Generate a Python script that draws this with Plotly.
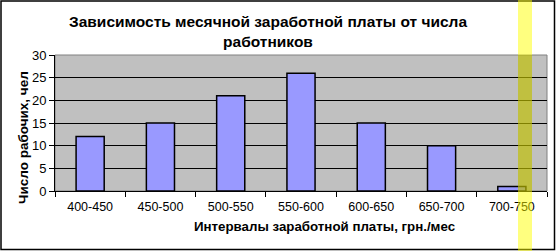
import plotly.graph_objects as go

categories = ["400-450", "450-500", "500-550", "550-600", "600-650", "650-700", "700-750"]
workers = [12, 15, 21, 26, 15, 10, 1]

L, R, T, B = 55, 12, 55, 60
W, H = 559, 251
pw, ph = W - L - R, H - T - B

def px(x):
    return (x - L) / pw

def py(y):
    return (H - B - y) / ph

fig = go.Figure(go.Bar(
    x=categories, y=workers, width=0.4,
    marker=dict(color="#9999ff", line=dict(color="black", width=1.5)),
))

font = "Liberation Sans, Arial, sans-serif"

fig.update_layout(
    width=W, height=H,
    margin=dict(l=L, r=R, t=T, b=B),
    paper_bgcolor="white", plot_bgcolor="#c0c0c0",
    showlegend=False,
    font=dict(family=font, size=12.5, color="black"),
    xaxis=dict(type="category", tickson="boundaries", ticks="outside", ticklen=5,
               tickcolor="black", showline=True, linecolor="black", linewidth=1,
               showgrid=False, tickfont=dict(size=12.5), range=[-0.5, 6.5],
               ticklabelstandoff=4),
    yaxis=dict(range=[0, 30], tickvals=[0, 5, 10, 15, 20, 25, 30], ticks="outside",
               ticklen=5, tickcolor="black", showline=True, linecolor="black",
               linewidth=1, gridcolor="black", gridwidth=1, zeroline=False,
               tickfont=dict(size=13)),
    annotations=[
        dict(text="<b>Зависимость месячной заработной платы от числа<br>работников</b>",
             xref="paper", yref="paper", x=px(268), y=py(32), xanchor="center",
             yanchor="middle", showarrow=False, font=dict(size=15.5), align="center"),
        dict(text="<b>Интервалы заработной платы, грн./мес</b>",
             xref="paper", yref="paper", x=px(324), y=py(226), xanchor="center",
             yanchor="middle", showarrow=False, font=dict(size=13.3)),
        dict(text="<b>Число рабочих, чел</b>", textangle=-90,
             xref="paper", yref="paper", x=px(23), y=py(138), xanchor="center",
             yanchor="middle", showarrow=False, font=dict(size=13.5)),
    ],
    shapes=[
        dict(type="rect", xref="paper", yref="paper", x0=0, x1=1, y0=0, y1=1,
             line=dict(color="#808080", width=1), layer="below"),
        dict(type="rect", xref="paper", yref="paper", x0=px(1), x1=px(554.5),
             y0=py(249.5), y1=py(1), line=dict(color="black", width=1.5),
             layer="above"),
        # highlight band: outside plot area (above and below)
        dict(type="rect", xref="paper", yref="paper", x0=px(518), x1=px(532),
             y0=1, y1=py(0), fillcolor="rgba(255,255,0,0.5)", line=dict(width=0),
             layer="above"),
        dict(type="rect", xref="paper", yref="paper", x0=px(518), x1=px(532),
             y0=py(251), y1=0, fillcolor="rgba(255,255,0,0.5)", line=dict(width=0),
             layer="above"),
        # highlight band inside plot area
        dict(type="rect", xref="paper", yref="paper", x0=px(518), x1=px(532),
             y0=0, y1=1, fillcolor="rgba(192,192,0,0.667)", line=dict(width=0),
             layer="above"),
    ],
)

fig.write_html("out.html")
